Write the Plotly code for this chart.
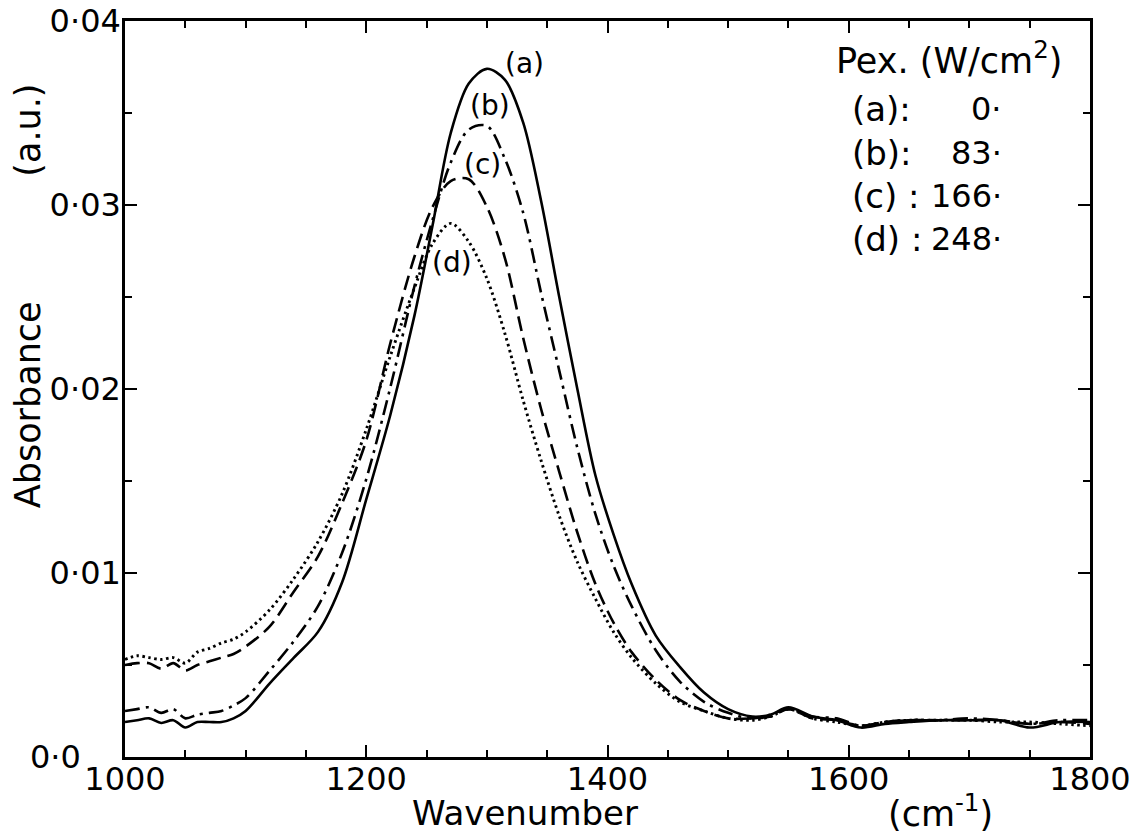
import plotly.graph_objects as go

# Wavenumber grid (cm^-1)
wavenumber = [1000, 1010, 1020, 1030, 1040, 1050, 1060, 1070, 1080, 1090, 1100,
              1120, 1140, 1160, 1180, 1200, 1220, 1240, 1255, 1270, 1285, 1300,
              1315, 1330, 1345, 1360, 1375, 1390, 1405, 1420, 1440, 1460, 1480,
              1500, 1520, 1535, 1550, 1570, 1590, 1610, 1630, 1650, 1675, 1700,
              1725, 1750, 1775, 1800]

# (a) Pex = 0 W/cm2 (solid)
abs_a = [0.0019, 0.0020, 0.0021, 0.00185, 0.0020, 0.0016, 0.0019, 0.0019, 0.0019, 0.0021, 0.0025,
         0.0040, 0.0054, 0.0068, 0.0095, 0.0140, 0.0186, 0.0240, 0.0289, 0.0339, 0.0366, 0.0374,
         0.0368, 0.0345, 0.0302, 0.0250, 0.0200, 0.0153, 0.0121, 0.0094, 0.0066, 0.0049, 0.0035,
         0.0026, 0.0022, 0.0023, 0.0027, 0.0022, 0.0020, 0.0016, 0.0018, 0.0019, 0.0020, 0.0020,
         0.0020, 0.0016, 0.0019, 0.0019]

# (b) Pex = 83 W/cm2 (dash-dot)
abs_b = [0.0025, 0.0026, 0.0027, 0.0024, 0.0026, 0.0021, 0.0023, 0.0024, 0.0025, 0.0028, 0.0032,
         0.0047, 0.0063, 0.0082, 0.0111, 0.0151, 0.0201, 0.0256, 0.0292, 0.0323, 0.0341, 0.0343,
         0.0325, 0.0296, 0.0252, 0.0210, 0.0168, 0.0132, 0.0104, 0.0082, 0.0058, 0.0041, 0.0030,
         0.0024, 0.0021, 0.0023, 0.0026, 0.0022, 0.0021, 0.0017, 0.0019, 0.0020, 0.0020, 0.0021,
         0.0020, 0.0018, 0.0020, 0.0020]

# (c) Pex = 166 W/cm2 (dashed)
abs_c = [0.0050, 0.0051, 0.0051, 0.0048, 0.0051, 0.0047, 0.0050, 0.0052, 0.0054, 0.0056, 0.0060,
         0.0071, 0.0090, 0.0109, 0.0138, 0.0172, 0.0225, 0.0272, 0.0299, 0.0313, 0.0314, 0.0299,
         0.0271, 0.0228, 0.0189, 0.0155, 0.0122, 0.0094, 0.0073, 0.0057, 0.0042, 0.0031, 0.0025,
         0.0021, 0.0021, 0.0022, 0.0026, 0.0021, 0.0020, 0.0017, 0.0019, 0.0020, 0.0020, 0.0020,
         0.0020, 0.0018, 0.0019, 0.0018]

# (d) Pex = 248 W/cm2 (dotted)
abs_d = [0.0053, 0.0055, 0.0054, 0.0053, 0.0054, 0.0051, 0.0057, 0.0059, 0.0062, 0.0064, 0.0068,
         0.0080, 0.0097, 0.0117, 0.0143, 0.0178, 0.0218, 0.0255, 0.0279, 0.0290, 0.0280, 0.0260,
         0.0230, 0.0194, 0.0161, 0.0131, 0.0106, 0.0086, 0.0068, 0.0054, 0.0040, 0.0030, 0.0025,
         0.0021, 0.0020, 0.0022, 0.0026, 0.0021, 0.0019, 0.0017, 0.0019, 0.0020, 0.0020, 0.0020,
         0.0019, 0.0019, 0.0018, 0.0017]

series = [("(a)", abs_a, "solid", 2.6),
          ("(b)", abs_b, "15px,6px,3px,6px", 2.6),
          ("(c)", abs_c, "15px,7px", 2.6),
          ("(d)", abs_d, "2.5px,3.5px", 2.9)]

y_tickvals = [0.01, 0.02, 0.03, 0.04]
y_ticktext = ["0·01", "0·02", "0·03", "0·04"]
x_tickvals = [1000, 1200, 1400, 1600, 1800]
x_ticktext = ["1000", "1200", "1400", "1600", "1800"]

legend_title = "Pex. (W/cm<sup>2</sup>)"
legend_keys = ["(a):", "(b):", "(c) :", "(d) :"]
legend_vals = ["0·", "83·", "166·", "248·"]

FONT = "DejaVu Sans"

fig = go.Figure()
for name, vals, dash, lw in series:
    fig.add_trace(go.Scatter(
        x=wavenumber, y=vals, mode="lines", name=name,
        line=dict(color="black", width=lw, dash=dash, shape="spline", smoothing=0.9),
        showlegend=False))

axis_common = dict(
    showline=True, linecolor="black", linewidth=2.5, mirror="ticks",
    ticks="inside", tickcolor="black", tickwidth=2, ticklen=12,
    showgrid=False, zeroline=False, automargin=False, ticklabeloverflow="allow",
    tickfont=dict(family=FONT, size=32, color="black"),
)

fig.update_xaxes(range=[1000, 1800], tickvals=x_tickvals, ticktext=x_ticktext,
                 ticklabelstandoff=-8,
                 minor=dict(dtick=50, tick0=1000, ticks="inside", ticklen=7,
                            tickwidth=2, tickcolor="black"),
                 **axis_common)
fig.update_yaxes(range=[0, 0.04], tickvals=y_tickvals, ticktext=y_ticktext,
                 ticklabelstandoff=-5,
                 minor=dict(dtick=0.005, tick0=0, ticks="inside", ticklen=7,
                            tickwidth=2, tickcolor="black"),
                 **axis_common)

annotations = []
# bottom-left zero label
annotations.append(dict(text="0·0", x=0, y=0, xref="paper", yref="y",
                        xanchor="right", yanchor="middle", xshift=-42, showarrow=False,
                        font=dict(family=FONT, size=32, color="black")))
# axis titles
annotations.append(dict(text="Absorbance", x=0, y=0.478, xref="paper", yref="paper",
                        xanchor="center", yanchor="middle", xshift=-97, textangle=-90,
                        showarrow=False, font=dict(family=FONT, size=35, color="black")))
annotations.append(dict(text="(a.u.)", x=0, y=0.851, xref="paper", yref="paper",
                        xanchor="center", yanchor="middle", xshift=-97, textangle=-90,
                        showarrow=False, font=dict(family=FONT, size=35, color="black")))
annotations.append(dict(text="Wavenumber", x=1332, y=0, xref="x", yref="paper",
                        xanchor="center", yanchor="middle", yshift=-56, showarrow=False,
                        font=dict(family=FONT, size=34, color="black")))
annotations.append(dict(text="(cm<sup>-1</sup>)", x=1676, y=0, xref="x", yref="paper",
                        xanchor="center", yanchor="middle", yshift=-54, showarrow=False,
                        font=dict(family=FONT, size=35, color="black")))
# curve labels
for txt, wx, ay in [("(a)", 1331, 0.0377), ("(b)", 1303, 0.0354),
                    ("(c)", 1296, 0.0322), ("(d)", 1271, 0.0269)]:
    annotations.append(dict(text=txt, x=wx, y=ay, xref="x", yref="y",
                            showarrow=False, font=dict(family=FONT, size=28, color="black")))
# legend block
annotations.append(dict(text=legend_title, x=1588, y=0.0380, xref="x", yref="y",
                        xanchor="left", yanchor="middle", showarrow=False,
                        font=dict(family=FONT, size=35, color="black")))
for i, (k, v) in enumerate(zip(legend_keys, legend_vals)):
    yy = 0.0352 - i * 0.00235
    annotations.append(dict(text=k, x=1601, y=yy, xref="x", yref="y",
                            xanchor="left", yanchor="middle", showarrow=False,
                            font=dict(family=FONT, size=34, color="black")))
    annotations.append(dict(text=v, x=1729, y=yy, xref="x", yref="y",
                            xanchor="right", yanchor="middle", showarrow=False,
                            font=dict(family=FONT, size=32, color="black")))

# page body adds an 8px offset; compensate so the plot frame lands at
# x 125..1090, y 21..757 in the 1139x839 window
fig.update_layout(
    width=1131, height=831,
    margin=dict(l=117, r=49, t=13, b=82),
    paper_bgcolor="white", plot_bgcolor="white",
    font=dict(family=FONT, size=32, color="black"),
    annotations=annotations,
)

fig.write_html("out.html")
